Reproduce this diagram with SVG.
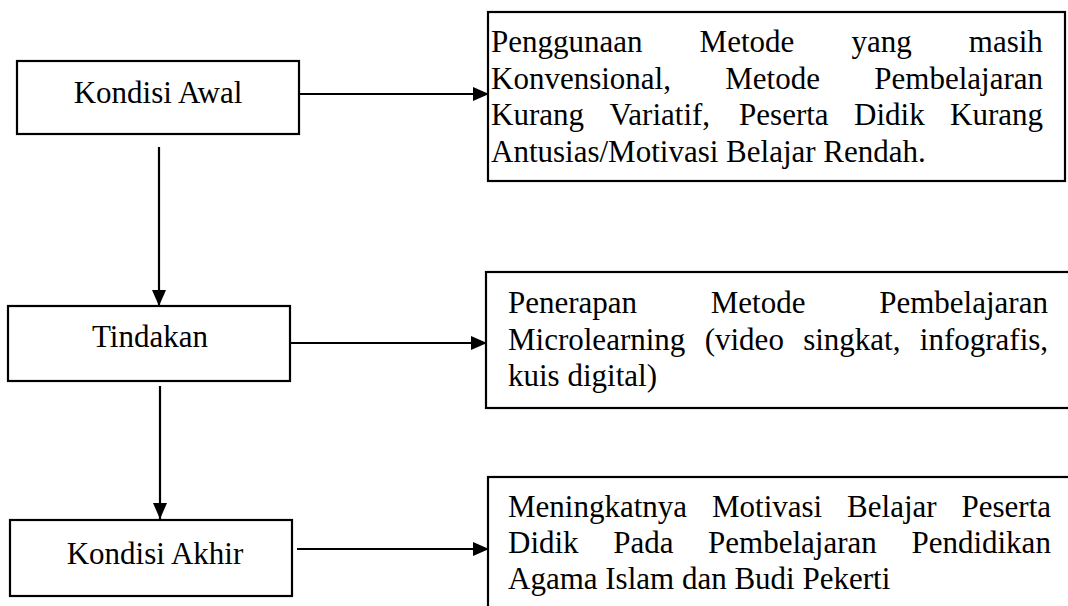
<svg xmlns="http://www.w3.org/2000/svg" width="1068" height="606" viewBox="0 0 1068 606">
<style>
.box{fill:#fff;stroke:#000;stroke-width:2.2}
.t{font-family:"Liberation Serif","Times New Roman",serif;font-size:31px;fill:#000}
.c{text-anchor:middle}
.ln{stroke:#000;stroke-width:2.2;fill:none}
</style>
<defs>
<marker id="ah" viewBox="0 0 16 14" refX="16" refY="7" markerWidth="16" markerHeight="14" markerUnits="userSpaceOnUse" orient="auto">
<path d="M0,0 L16,7 L0,14 Z" fill="#000"/>
</marker>
</defs>
<rect width="1068" height="606" fill="#fff"/>
<g id="connectors">
<line class="ln" x1="300" y1="94" x2="489" y2="94" marker-end="url(#ah)"/>
<line class="ln" x1="159" y1="147" x2="159" y2="306" marker-end="url(#ah)"/>
<line class="ln" x1="291" y1="343" x2="487" y2="343" marker-end="url(#ah)"/>
<line class="ln" x1="160" y1="386" x2="160" y2="519" marker-end="url(#ah)"/>
<line class="ln" x1="297" y1="549" x2="489" y2="549" marker-end="url(#ah)"/>
</g>
<g id="kondisi-awal">
<rect class="box" x="17" y="61" width="282" height="73"/>
<text class="t c" x="158" y="103">Kondisi Awal</text>
</g>
<g id="tindakan">
<rect class="box" x="8" y="306" width="282" height="75"/>
<text class="t c" x="150" y="347">Tindakan</text>
</g>
<g id="kondisi-akhir">
<rect class="box" x="10" y="520" width="282" height="76"/>
<text class="t c" x="155" y="564">Kondisi Akhir</text>
</g>
<g id="desc-awal">
<rect class="box" x="488" y="12" width="577" height="169"/>
<text class="t" y="52"><tspan x="491">Penggunaan</tspan><tspan x="699.6">Metode</tspan><tspan x="851.4">yang</tspan><tspan x="968.8">masih</tspan></text>
<text class="t" y="88.5"><tspan x="491">Konvensional,</tspan><tspan x="725.3">Metode</tspan><tspan x="874.3">Pembelajaran</tspan></text>
<text class="t" y="125"><tspan x="491">Kurang</tspan><tspan x="609.4">Variatif,</tspan><tspan x="739.1">Peserta</tspan><tspan x="854.1">Didik</tspan><tspan x="950.1">Kurang</tspan></text>
<text class="t" x="491" y="161.5">Antusias/Motivasi Belajar Rendah.</text>
</g>
<g id="desc-tindakan">
<rect class="box" x="486" y="272" width="600" height="136"/>
<text class="t" y="313"><tspan x="508">Penerapan</tspan><tspan x="710.8">Metode</tspan><tspan x="879.2">Pembelajaran</tspan></text>
<text class="t" y="349.5"><tspan x="508">Microlearning</tspan><tspan x="704.7">(video</tspan><tspan x="803.2">singkat,</tspan><tspan x="919.8">infografis,</tspan></text>
<text class="t" x="508" y="386">kuis digital)</text>
</g>
<g id="desc-akhir">
<rect class="box" x="488" y="477" width="600" height="150"/>
<text class="t" y="517"><tspan x="508">Meningkatnya</tspan><tspan x="712">Motivasi</tspan><tspan x="847.1">Belajar</tspan><tspan x="961.5">Peserta</tspan></text>
<text class="t" y="553"><tspan x="508">Didik</tspan><tspan x="613.2">Pada</tspan><tspan x="708.1">Pembelajaran</tspan><tspan x="911.4">Pendidikan</tspan></text>
<text class="t" x="508" y="589">Agama Islam dan Budi Pekerti</text>
</g>
</svg>
